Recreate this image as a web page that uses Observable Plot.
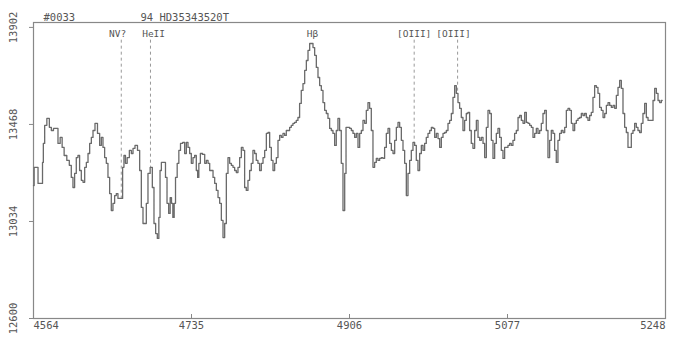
<!DOCTYPE html>
<html><head><meta charset="utf-8">
<script src="https://cdn.jsdelivr.net/npm/d3@7"></script>
<script src="https://cdn.jsdelivr.net/npm/@observablehq/plot@0.6"></script>
<style>body{margin:0;background:#fff} svg{display:block}</style>
</head><body><div id="chart"></div>
<script>
const wavelength = [
4564,4565.4,4568.0,4569.8,4573.4,4574.1,4575.2,4577.0,4579.9,4582.4,4584.2,4587.1,4589.6,4591.4,4594.3,4595.7,4598.6,4601.5,4604.0,4605.8,
4607.6,4609.4,4611.2,4613.0,4614.8,4616.7,4618.5,4620.3,4622.1,4623.9,4625.7,4627.5,4629.3,4631.8,4634.7,4636.5,4638.3,4640.1,4641.9,4643.7,
4645.5,4647.3,4649.1,4650.9,4652.7,4654.5,4656.3,4659.9,4661.0,4662.8,4664.3,4666.5,4669.0,4670.8,4672.6,4675.1,4678.0,4679.8,4681.6,4683.4,
4685.2,4687.0,4688.8,4691.7,4693.5,4695.3,4697.1,4698.9,4700.4,4701.5,4703.3,4706.1,4707.6,4709.4,4711.2,4712.6,4714.1,4715.5,4717.0,4718.4,
4720.6,4722.0,4724.2,4726.7,4728.5,4730.3,4732.1,4733.9,4735.7,4737.5,4739.3,4741.1,4742.2,4743.7,4745.5,4748.4,4750.2,4752.0,4753.8,4755.6,
4757.4,4759.2,4761.0,4762.8,4764.6,4766.4,4768.2,4770.0,4771.8,4773.6,4775.4,4777.2,4779.0,4780.8,4782.6,4784.4,4786.2,4788.0,4789.9,
4791.6,4793.4,4795.2,4797.0,4798.8,4800.6,4802.4,4804.2,4806.0,4807.8,4809.6,4811.5,4813.3,4815.1,4816.9,4818.7,4820.5,4822.3,4824.1,4825.9,
4827.7,4829.5,4831.3,4833.1,4834.9,4836.7,4838.5,4840.3,4842.1,4843.9,4845.7,4847.5,4849.3,4851.1,4852.9,4854.7,4856.6,4858.4,4860.2,4862.0,
4863.8,4865.6,4867.4,4869.2,4871.0,4872.8,4874.6,4876.4,4878.2,4880.0,4881.8,4883.6,4885.4,4887.2,4889.0,4890.8,4892.6,4894.4,4896.2,4898.0,
4899.9,4901.7,4902.8,4905.3,4907.1,4908.9,4910.7,4912.5,4914.3,4916.1,4917.9,4919.7,4921.5,4923.3,4925.1,4926.9,4928.7,4930.5,4932.3,4934.1,
4935.9,4937.7,4939.5,4941.3,4943.1,4944.9,4946.8,4948.6,4950.4,4952.2,4954.0,4955.8,4957.6,4959.4,4961.2,4963.0,4964.8,4966.6,4968.4,4970.2,
4972.0,4973.8,4975.6,4977.4,4979.2,4981.0,4982.8,4984.7,4986.4,4988.2,4990.0,4991.9,4993.7,4995.5,4997.3,4999.1,5000.9,5002.7,5004.5,5006.3,
5008.1,5009.9,5011.7,5013.5,5015.3,5017.1,5018.9,5020.7,5022.5,5024.3,
5026.1,5027.9,5029.7,5031.5,5033.3,5035.1,5036.9,5038.7,5040.5,5042.4,5044.2,5046.0,5047.8,5049.6,5051.4,5053.2,5055.0,5056.8,5058.6,5060.4,
5062.2,5064.0,5065.8,5067.6,5069.4,5071.2,5073.0,5074.8,5076.6,5078.4,5080.2,5082.0,5083.8,5085.6,5087.5,5089.3,5091.1,5092.9,5094.7,5096.5,
5098.3,5100.1,5101.9,5103.7,5105.5,5107.3,5109.1,5110.9,5112.7,5114.5,5116.3,5118.1,5119.9,5121.7,5123.5,5125.3,5127.1,5128.9,5130.7,5132.5,
5134.3,5136.2,5138.0,5139.8,5141.6,5143.4,5145.2,5147.0,5148.8,5150.6,5152.4,5154.2,5156.0,5157.8,5159.6,5161.4,5163.2,5165.0,5166.8,5168.6,
5170.4,5172.2,5174.0,5175.8,5177.6,5179.5,5181.3,5183.1,5184.9,5186.7,5188.5,5190.3,5192.1,5193.9,5195.7,5197.5,5199.3,5201.1,5202.9,5204.7,
5206.5,5208.3,5210.1,5211.9,5213.7,5215.5,5217.3,5219.1,5220.9,5222.7,5224.5,5226.4,5228.2,5230.0,5231.8,5233.6,5235.4,5237.2,5239.0,5240.8,
5242.6,5244.4
];
const flux = [
13195,13276,13276,13204,13204,13298,13383,13464,13495,13455,13441,13450,13450,13383,13410,13365,13329,13307,13285,13231,
13186,13249,13320,13329,13262,13218,13209,13276,13298,13338,13383,13410,13441,13473,13428,13374,13410,13365,13320,13294,
13231,13159,13083,13115,13150,13159,13137,13137,13276,13329,13294,13320,13352,13338,13361,13374,13352,13262,13097,13025,
13025,13115,13249,13276,13186,13025,12980,12958,13052,13262,13298,13298,13231,13115,13070,13141,13115,13052,13115,13231,
13294,13352,13383,13388,13338,13388,13365,13338,13294,13320,13329,13262,13231,13294,13338,13334,13294,13307,13294,13262,
13262,13231,13204,13173,13141,13115,13039,12962,13025,13249,13320,13294,13285,13276,13262,13253,13276,13320,13365,
13352,13186,13173,13218,13262,13294,13352,13338,13307,13294,13262,13294,13320,13352,13428,13432,13365,13307,13262,13294,
13320,13397,13419,13410,13428,13419,13441,13441,13455,13464,13473,13477,13486,13499,13562,13620,13651,13710,13754,13799,
13830,13830,13812,13777,13723,13678,13642,13620,13566,13531,13517,13495,13450,13441,13428,13374,13441,13495,13441,13294,
13083,13249,13455,13455,13450,13441,13428,13410,13428,13365,13428,13441,13486,13473,13531,13566,13540,13441,13276,13298,
13316,13307,13316,13320,13316,13365,13428,13450,13383,13352,13338,13397,13455,13477,13455,13397,13352,13294,13150,13249,
13307,13352,13388,13374,13307,13262,13338,13374,13352,13383,13410,13428,13441,13455,13450,13410,13428,13405,13365,13410,
13428,13432,13441,13473,13486,13517,13589,13642,13607,13566,
13540,13499,13441,13486,13517,13522,13441,13383,13361,13441,13486,13410,13397,13410,13383,13320,13455,13531,13517,13397,
13316,13383,13428,13450,13410,13352,13316,13365,13365,13374,13383,13374,13397,13428,13441,13499,13508,13486,13473,13522,
13477,13473,13464,13455,13410,13428,13450,13428,13441,13473,13517,13531,13441,13320,13397,13441,13428,13352,13298,13397,
13428,13441,13432,13455,13531,13540,13531,13473,13441,13473,13486,13495,13499,13517,13508,13517,13499,13486,13508,13522,
13589,13642,13634,13607,13544,13531,13499,13517,13553,13566,13553,13544,13553,13540,13598,13634,13665,13629,13517,13455,
13432,13365,13365,13428,13441,13473,13455,13441,13432,13473,13517,13562,13499,13486,13486,13486,13575,13629,13607,13575,
13566,13575
];
const xTicks = [4564, 4735, 4906, 5077, 5248];
const yTicks = [12600, 13034, 13468, 13902];
const lineLabels = ["NV?", "HeII", "H\u03b2", "[OIII]", "[OIII]"];
const labelWavelength = [4655, 4694, 4866, 4976, 5018.5];
const markerWavelength = [4659, 4690.6, 4976, 5023];
const markerFlux = [13137, 13276, 13388, 13607];
const markerTop = 13845;
const labelLevel = 13875;
const headerId = "#0033";
const headerName = "94 HD35343520T";

const data = wavelength.map((w, i) => ({w, f: flux[i]}));
const font = "DejaVu Sans Mono, monospace";
const ink = "#555";

const chart = Plot.plot({
  width: 675,
  height: 339,
  marginLeft: 33,
  marginRight: 10,
  marginTop: 22,
  marginBottom: 21,
  style: {fontFamily: font, fontSize: "10.5px", color: ink, background: "#fff"},
  x: {domain: [4564, 5248]},
  y: {domain: [12600, 13924]},
  marks: [
    Plot.frame({stroke: "#888", strokeWidth: 1.2}),
    Plot.axisY(yTicks, {tickRotate: -90, tickSize: 4, tickPadding: 13, label: null, stroke: "#888", fill: ink, tickFormat: d => String(d)}),
    Plot.axisX(xTicks, {tickSize: -4, label: null, stroke: "#888", tickFormat: () => ""}),
    Plot.text(xTicks.slice(0, 1), {x: d => d, frameAnchor: "bottom", dy: 10, textAnchor: "start", fill: ink, text: d => String(d)}),
    Plot.text(xTicks.slice(1, -1), {x: d => d, frameAnchor: "bottom", dy: 10, textAnchor: "middle", fill: ink, text: d => String(d)}),
    Plot.text(xTicks.slice(-1), {x: d => d, frameAnchor: "bottom", dy: 10, textAnchor: "end", fill: ink, text: d => String(d)}),
    Plot.ruleX(markerWavelength, {x: d => d, y1: markerTop, y2: (d, i) => markerFlux[i], stroke: "#999", strokeDasharray: "3,3", strokeWidth: 1}),
    Plot.text(lineLabels, {x: (d, i) => labelWavelength[i], y: labelLevel, text: d => d, fill: ink, fontSize: 9.5}),
    Plot.line(data, {x: "w", y: "f", curve: "step", stroke: "#6a6a6a", strokeWidth: 1.3}),
    Plot.text([headerId], {frameAnchor: "top-left", dx: 10, dy: -9, textAnchor: "start", text: d => d, fill: ink}),
    Plot.text([headerName], {frameAnchor: "top-left", dx: 107, dy: -9, textAnchor: "start", text: d => d, fill: ink})
  ]
});
document.getElementById("chart").append(chart);
</script>
</body></html>
